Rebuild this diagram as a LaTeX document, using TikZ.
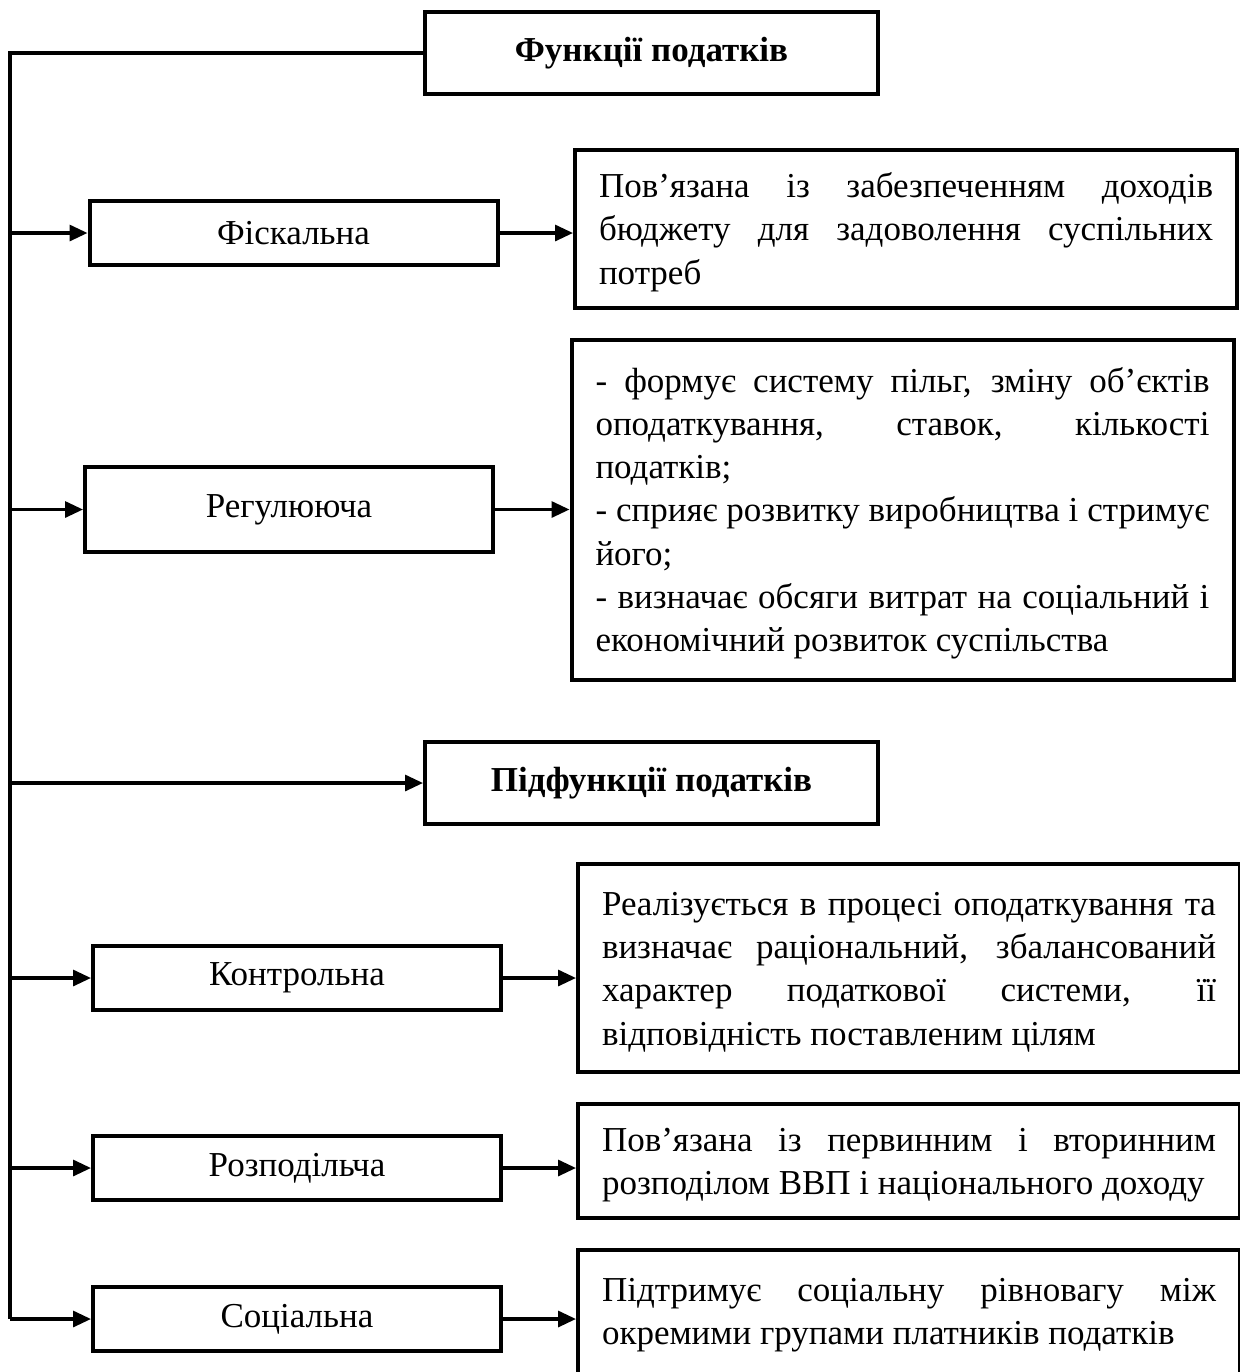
\documentclass[tikz,border=0pt]{standalone}
\usepackage{fontspec}
\setmainfont{Liberation Serif}
\usetikzlibrary{arrows.meta}
\newcommand\jline[1]{\par\hbox to 307pt{\spaceskip=0pt\xspaceskip=0pt #1}}
\newcommand\rline[1]{\par\hbox{\spaceskip=0pt\xspaceskip=0pt #1}}
\newcommand\closetext[1][6pt]{\par\nointerlineskip\vbox to #1{}}
\begin{document}
\begin{tikzpicture}[x=0.5pt,y=-0.5pt,
  every node/.style={font=\fontsize{17.5pt}{21.6pt}\selectfont},
  lbox/.style={draw, line width=2pt, minimum width=204pt, minimum height=32pt, inner sep=0pt},
  hbox/.style={draw, line width=2pt, minimum width=226.5pt, minimum height=41pt, inner sep=0pt,
    font=\fontsize{17.5pt}{21.6pt}\selectfont\bfseries},
  dbox/.style={draw, line width=2pt, text width=307pt, inner xsep=12pt, inner ysep=0pt, align=left},
  conn/.style={line width=1.6pt},
  arr/.style={conn, -{Triangle[length=9pt,width=8pt]}}]
\clip (0,0) rectangle (1240,1372);
\coordinate (spine) at (10,0);

\node[hbox] (top) at (651.5,53) {Функції податків};

\node[lbox] (fisk) at (293.5,233) {Фіскальна};
\node[dbox, minimum height=79pt] (d1) at (906,229) {%
\jline{Пов’язана із забезпеченням доходів}%
\jline{бюджету для задоволення суспільних}%
\rline{потреб}\closetext};

\node[lbox, minimum height=42.5pt] (reg) at (289,509.5) {Регулююча};
\node[dbox, minimum height=170pt] (d2) at (902.5,510) {%
\jline{- формує систему пільг, зміну об’єктів}%
\jline{оподаткування, ставок, кількості}%
\rline{податків;}%
\jline{- сприяє розвитку виробництва і стримує}%
\rline{його;}%
\jline{- визначає обсяги витрат на соціальний і}%
\rline{економічний розвиток суспільства}\closetext};

\node[hbox] (sub) at (651.5,783) {Підфункції податків};

\node[lbox] (kontr) at (297,978) {Контрольна};
\node[dbox, minimum height=104pt] (d3) at (909,968) {%
\jline{Реалізується в процесі оподаткування та}%
\jline{визначає раціональний, збалансований}%
\jline{характер податкової системи, її}%
\rline{відповідність поставленим цілям}\closetext};

\node[lbox] (rozp) at (297,1168) {Розподільча};
\node[dbox, minimum height=57pt] (d4) at (909,1161) {%
\jline{Пов’язана із первинним і вторинним}%
\rline{розподілом ВВП і національного доходу}\closetext};

\node[lbox] (soc) at (297,1319) {Соціальна};
\node[dbox, minimum height=65pt] (d5) at (909,1315) {%
\jline{Підтримує соціальну рівновагу між}%
\rline{окремими групами платників податків}\closetext[10pt]};

\draw[conn] (top.west) -- (top.west -| spine) -- (soc.west -| spine);
\foreach \n/\d in {fisk/d1, reg/d2, kontr/d3, rozp/d4, soc/d5}{
  \draw[arr] (\n.west -| spine) -- (\n.west);
  \draw[arr] (\n.east) -- (\n.east -| \d.west);
}
\draw[arr] (sub.west -| spine) -- (sub.west);
\end{tikzpicture}
\end{document}
